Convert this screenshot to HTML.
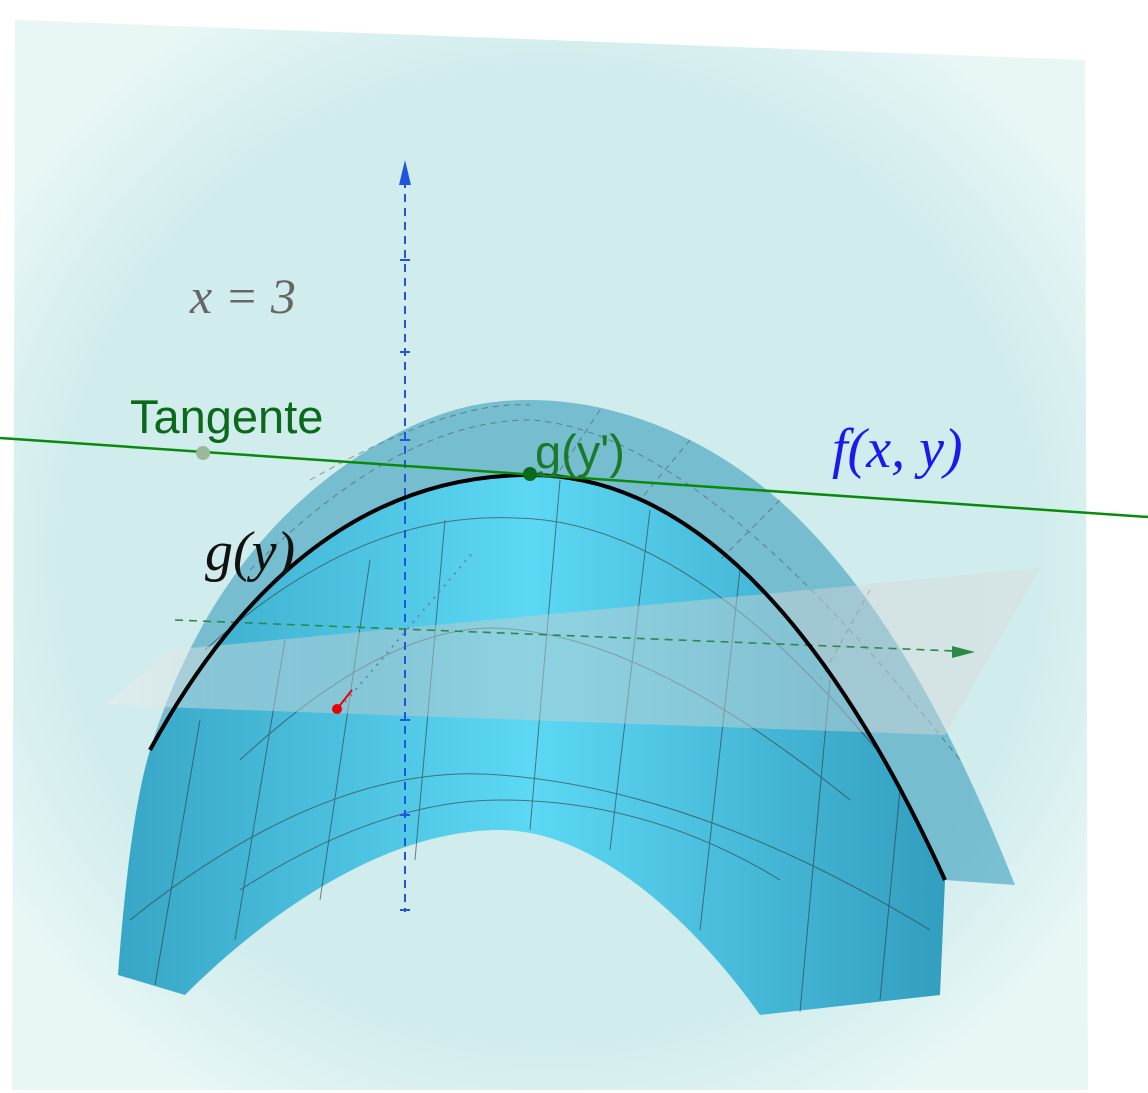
<!DOCTYPE html>
<html><head><meta charset="utf-8"><style>
html,body{margin:0;padding:0;background:#fff;}
svg{display:block;font-family:"Liberation Sans",sans-serif;}
.it{font-family:"Liberation Serif",serif;font-style:italic;}
</style></head><body>
<svg width="1148" height="1093" viewBox="0 0 1148 1093">
<defs>
<radialGradient id="bgP" cx="0.5" cy="0.5" r="0.6">
<stop offset="0.75" stop-color="#d0ecec"/><stop offset="1" stop-color="#e8f6f6"/></radialGradient>
<linearGradient id="front" x1="0" x2="1" y1="0" y2="0">
<stop offset="0" stop-color="#38a6c6"/><stop offset="0.5" stop-color="#5cd8f4"/><stop offset="1" stop-color="#339ebf"/></linearGradient>
<linearGradient id="plane" x1="0" x2="1"><stop offset="0" stop-color="#eeeeee"/><stop offset="0.3" stop-color="#c8c8c8"/><stop offset="1" stop-color="#dcdcdc"/></linearGradient>
</defs>
<polygon points="15,20 1085,60 1088,1090 12,1090" fill="url(#bgP)"/>
<text class="it" x="190" y="313" font-size="50" fill="#666">x = 3</text>
<path d="M150,750 C190,620 260,520 360,455 C430,410 480,400 530,400 C620,400 720,440 800,520 C880,600 950,720 1015,885 L945,880 Q760,475 530,475 Q300,475 150,750 Z" fill="#3b9fbe" fill-opacity="0.6"/>
<path d="M150,750 Q300,475 530,475 Q760,475 945,880 L940,995 L760,1015 C700,930 600,830 500,830 C380,830 260,920 185,995 L118,975 C125,880 135,800 150,750 Z" fill="url(#front)"/>
<g stroke="#333" stroke-width="1" fill="none" opacity="0.6">
<path d="M205,650 Q360,510 515,518 Q690,520 885,760"/>
<path d="M240,760 Q380,630 490,628 Q640,630 850,800"/>
<path d="M130,920 Q330,760 500,775 Q700,790 930,930"/>
<path d="M240,890 Q380,800 500,800 Q650,800 780,880"/>
<path d="M445,520 L415,860"/><path d="M370,560 L320,900"/><path d="M285,640 L235,940"/><path d="M200,720 L155,985"/>
<path d="M560,480 L530,830"/><path d="M650,510 L610,850"/><path d="M740,570 L700,930"/><path d="M830,680 L800,1012"/><path d="M900,790 L880,1000"/>
</g>
<g stroke="#444" stroke-width="1" fill="none" stroke-dasharray="6,5" opacity="0.5">
<path d="M250,570 Q400,420 530,420 Q700,430 960,760"/>
<path d="M310,480 Q450,400 530,405"/>
<path d="M600,410 L560,470"/><path d="M690,440 L640,500"/><path d="M780,500 L720,560"/><path d="M870,590 L820,680"/>
</g>
<path d="M105,705 L170,650 L1040,568 L945,735 Z" fill="url(#plane)" fill-opacity="0.45"/>
<g stroke="#2255dd" stroke-width="2" stroke-dasharray="8,6">
<line x1="405" y1="180" x2="405" y2="912"/></g>
<g stroke="#2255dd" stroke-width="2">
<line x1="400" y1="260" x2="410" y2="260"/><line x1="400" y1="352" x2="410" y2="352"/><line x1="400" y1="440" x2="410" y2="440"/><line x1="400" y1="720" x2="410" y2="720"/><line x1="400" y1="815" x2="410" y2="815"/><line x1="400" y1="910" x2="410" y2="910"/></g>
<polygon points="405,160 399,185 411,185" fill="#2255dd"/>
<g stroke="#2a8a4a" stroke-width="1.6" stroke-dasharray="8,6">
<line x1="175" y1="620" x2="955" y2="651"/></g>
<polygon points="975,652 952,646 952,658" fill="#2a8a4a"/>
<line x1="340" y1="708" x2="475" y2="550" stroke="#6688aa" stroke-width="2" stroke-dasharray="2,6"/>
<path d="M150,750 Q300,475 530,475 Q760,475 945,880" fill="none" stroke="#000" stroke-width="4"/>
<line x1="0" y1="438" x2="1148" y2="517" stroke="#0a8a0a" stroke-width="2.5"/>
<circle cx="203" cy="453" r="7" fill="#9ab89a"/>
<circle cx="530" cy="474" r="7" fill="#0a6a1a"/>
<line x1="337" y1="709" x2="352" y2="690" stroke="#e00" stroke-width="2"/>
<circle cx="337" cy="709" r="5" fill="#e00"/>
<text x="130" y="433" font-size="47" fill="#0a6a1a">Tangente</text>
<text x="535" y="468" font-size="47" fill="#1a7a2a">g(y')</text>
<text class="it" x="832" y="467" font-size="56" fill="#1a1aee">f(x, y)</text>
<text class="it" x="205" y="570" font-size="56" fill="#111">g(y)</text>
</svg>
</body></html>
